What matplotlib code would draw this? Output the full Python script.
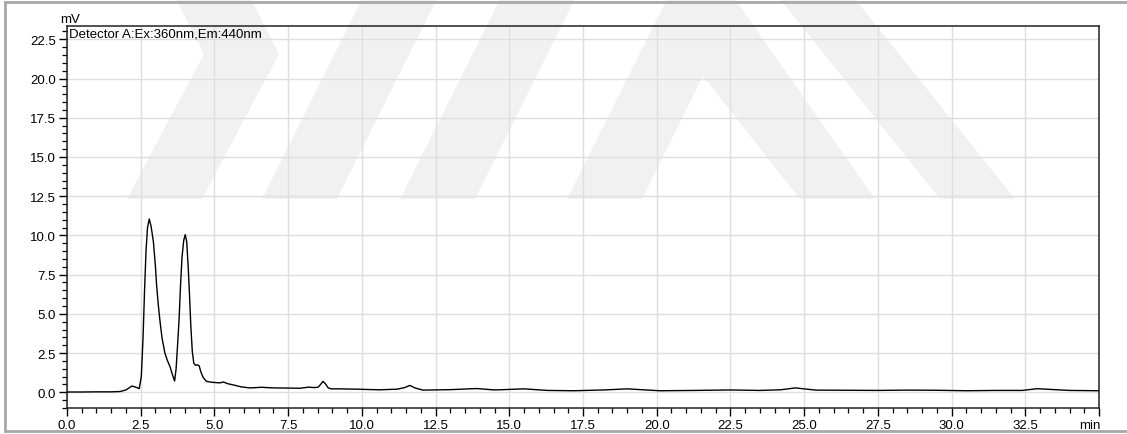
import matplotlib
matplotlib.use("Agg")
import matplotlib.pyplot as plt
from matplotlib.patches import Polygon
from matplotlib.lines import Line2D
from matplotlib.ticker import MultipleLocator, FixedLocator, FixedFormatter

plt.rcParams['font.family'] = ['Liberation Sans', 'DejaVu Sans']

# Chromatogram trace: retention time (min) and detector signal (mV)
time_min = [0.0, 0.5, 1.0, 1.5, 1.8, 2.0, 2.2, 2.3, 2.45, 2.52, 2.58, 2.63, 2.68,
            2.73, 2.79, 2.85, 2.93, 3.0, 3.04, 3.1, 3.15, 3.22, 3.32, 3.4, 3.49,
            3.58, 3.65, 3.7, 3.75, 3.8, 3.85, 3.9, 3.96, 4.01, 4.06, 4.11, 4.16,
            4.2, 4.25, 4.3, 4.36, 4.42, 4.48, 4.54, 4.62, 4.73, 4.9, 5.19, 5.3,
            5.45, 5.64, 5.9, 6.2, 6.6, 7.0, 7.5, 7.9, 8.2, 8.4, 8.52, 8.6, 8.68,
            8.76, 8.85, 8.95, 9.26, 9.8, 10.6, 11.2, 11.45, 11.63, 11.8, 12.07,
            13.0, 13.9, 14.5, 15.5, 16.3, 17.2, 18.2, 19.0, 20.1, 21.3, 22.5,
            23.5, 24.2, 24.7, 25.4, 26.5, 27.5, 28.5, 29.5, 30.5, 31.5, 32.4,
            32.9, 33.4, 34.0, 35.0]
signal_mv = [0.02, 0.02, 0.03, 0.03, 0.05, 0.15, 0.4, 0.35, 0.24, 1.0, 3.5, 6.5,
             9.0, 10.5, 11.05, 10.6, 9.6, 8.0, 6.8, 5.5, 4.6, 3.5, 2.5, 2.05,
             1.65, 1.1, 0.72, 1.5, 3.0, 4.6, 6.8, 8.6, 9.7, 10.05, 9.6, 8.0,
             6.0, 4.2, 2.6, 1.85, 1.72, 1.75, 1.7, 1.3, 0.94, 0.7, 0.64, 0.6,
             0.66, 0.55, 0.47, 0.35, 0.28, 0.32, 0.28, 0.27, 0.26, 0.33, 0.3,
             0.33, 0.5, 0.7, 0.55, 0.3, 0.22, 0.22, 0.2, 0.16, 0.2, 0.3, 0.44,
             0.28, 0.14, 0.17, 0.24, 0.15, 0.22, 0.12, 0.1, 0.15, 0.22, 0.1,
             0.12, 0.15, 0.12, 0.16, 0.28, 0.14, 0.13, 0.12, 0.14, 0.13, 0.1,
             0.12, 0.12, 0.23, 0.18, 0.12, 0.1]

x_major = [0.0, 2.5, 5.0, 7.5, 10.0, 12.5, 15.0, 17.5, 20.0, 22.5, 25.0, 27.5,
           30.0, 32.5, 35.0]
x_labels = ['0.0', '2.5', '5.0', '7.5', '10.0', '12.5', '15.0', '17.5', '20.0',
            '22.5', '25.0', '27.5', '30.0', '32.5', '']
y_major = [0.0, 2.5, 5.0, 7.5, 10.0, 12.5, 15.0, 17.5, 20.0, 22.5]
y_labels = ['0.0', '2.5', '5.0', '7.5', '10.0', '12.5', '15.0', '17.5', '20.0', '22.5']

W, H = 1127, 435
FS = 9.5
fig = plt.figure(figsize=(W / 100, H / 100), dpi=100)


def px(points):
    return [(x / W, 1 - y / H) for x, y in points]


# faint background emblem
emblem = [
    [(176, 0), (251, 0), (279, 55), (202, 200), (127, 200), (204, 55)],
    [(262, 200), (337, 200), (437, 0), (362, 0)],
    [(400, 200), (475, 200), (575, 0), (500, 0)],
    [(567, 200), (642, 200), (703, 77), (800, 200), (875, 200), (735, 0), (667, 0)],
    [(940, 200), (1015, 200), (855, 0), (780, 0)],
]
for shape in emblem:
    fig.add_artist(Polygon(px(shape), closed=True, transform=fig.transFigure,
                           facecolor='#f1f1f1', edgecolor='none', zorder=-2))

# outer frame
for seg in [[(5, 3), (1127, 3)], [(5, 3), (5, 432)], [(5, 432), (1127, 432)]]:
    (x0, y0), (x1, y1) = px(seg)
    fig.add_artist(Line2D([x0, x1], [y0, y1], transform=fig.transFigure,
                          color='#a8a8a8', lw=2, zorder=-1))

ax = fig.add_axes([67 / W, 1 - 409 / H, (1099 - 67) / W, (409 - 27) / H])
ax.set_facecolor('none')

ax.plot(time_min, signal_mv, color='black', lw=1.0, zorder=3)

ax.set_xlim(0, 35)
ax.set_ylim(-1.0, 23.35)

ax.xaxis.set_major_locator(FixedLocator(x_major))
ax.xaxis.set_major_formatter(FixedFormatter(x_labels))
ax.xaxis.set_minor_locator(MultipleLocator(0.5))
ax.yaxis.set_major_locator(FixedLocator(y_major))
ax.yaxis.set_major_formatter(FixedFormatter(y_labels))
ax.yaxis.set_minor_locator(MultipleLocator(0.5))

ax.tick_params(which='major', direction='out', length=6, width=1, labelsize=FS,
               pad=2, color='black')
ax.tick_params(which='minor', direction='out', length=3.5, width=0.9, color='black')

ax.grid(True, which='major', color='#dedede', lw=1)
ax.set_axisbelow(True)
for sp in ax.spines.values():
    sp.set_color('#222222')
    sp.set_linewidth(1.1)

ax.text(0.0015, 0.997, 'Detector A:Ex:360nm,Em:440nm', transform=ax.transAxes,
        ha='left', va='top', fontsize=FS)
fig.text(70 / W, 1 - 20 / H, 'mV', ha='center', va='center', fontsize=FS)
fig.text(1101 / W, 1 - 426 / H, 'min', ha='right', va='center', fontsize=FS)

fig.savefig('out.png', dpi=100)
